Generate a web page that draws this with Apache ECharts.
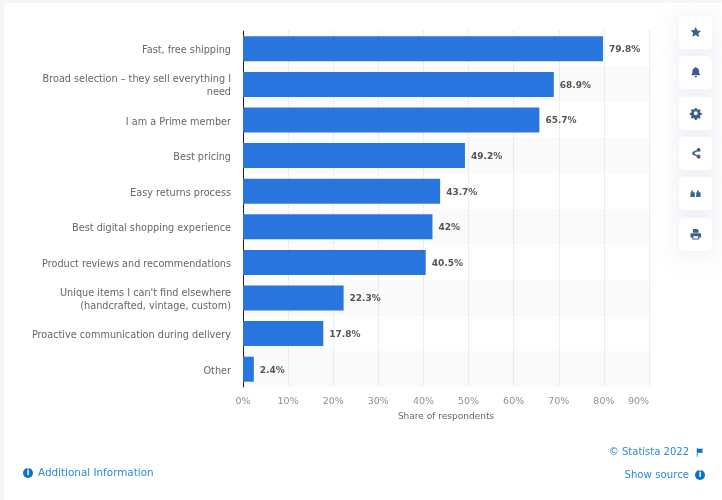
<!DOCTYPE html>
<html>
<head>
<meta charset="utf-8">
<title>Share of respondents</title>
<script src="https://cdn.jsdelivr.net/npm/echarts@6/dist/echarts.min.js"></script>
<style>
html,body{margin:0;padding:0;background:#f4f6f9;}
#main{width:722px;height:500px;}
</style>
</head>
<body>
<div id="main"></div>
<script>
var categories = [
	'Fast, free shipping',
	'Broad selection – they sell everything I\nneed',
	'I am a Prime member',
	'Best pricing',
	'Easy returns process',
	'Best digital shopping experience',
	'Product reviews and recommendations',
	"Unique items I can't find elsewhere\n(handcrafted, vintage, custom)",
	'Proactive communication during delivery',
	'Other'
];
var shares = [79.8, 68.9, 65.7, 49.2, 43.7, 42, 40.5, 22.3, 17.8, 2.4];
var axisTitle = 'Share of respondents';

var FONT = '"DejaVu Sans", sans-serif';
var LINK = '#2a8ad8';
var ICON = '#3d5f8a';

var myChart = echarts.init(document.getElementById('main'), null, {renderer: 'canvas'});

// toolbar buttons on the right, icons drawn on a 24 unit box
var btnY = [32, 72, 113, 153, 193, 234];
var iconPaths = [
	'M12 1l3.4 7.2 7.6 1-5.5 5.4 1.4 7.8L12 17.7 5.1 21.4l1.4-7.8L1 8.2l7.6-1z',
	'M12 1c1 0 1.6.7 1.7 1.6C17 3.4 19 6 19 10c0 5 1 6.5 2.5 8H2.5C4 16.5 5 15 5 10c0-4 2-6.6 5.3-7.4C10.400 1.700 11 1 12 1zM9.500 20h5c0 1.500-1 3-2.500 3s-2.500-1.500-2.500-3z',
	'M10 1h4l.6 3 2.200.9 2.600-1.700 2.800 2.800-1.700 2.600.9 2.200 3 .6v4l-3 .6-.9 2.200 1.700 2.600-2.800 2.800-2.600-1.700-2.200.9-.6 3h-4l-.6-3-2.200-.9-2.600 1.700-2.800-2.800 1.700-2.600-.9-2.200-3-.6v-4l3-.6.9-2.200-1.700-2.600 2.800-2.800 2.600 1.700 2.200-.9zM12 8a4 4 0 1 0 0 8 4 4 0 1 0 0-8z',
	'M18 1a4 4 0 1 1-2.900 6.800L9.800 10.700a4 4 0 0 1 0 2.600l5.300 2.900A4 4 0 1 1 14 19l-5.500-3a4 4 0 1 1 0-8L14 5a4 4 0 0 1 4-4z',
	'M1 13c0-4 2-7 5.500-8v3c-1 .5-1.500 1-1.500 2h5v10H1zM13 13c0-4 2-7 5.500-8v3c-1 .5-1.500 1-1.500 2h5v10h-9z',
	'M6 1h9l3 3v5H6zM3 10h18a2 2 0 0 1 2 2v7h-4v4H5v-4H1v-7a2 2 0 0 1 2-2zM7 16v5h10v-5z'
];
iconPaths.forEach(function(p, i){
	echarts.graphic.registerShape('icon' + i, echarts.graphic.extendPath(p, {}));
});
echarts.graphic.registerShape('flagIcon', echarts.graphic.extendPath('M1 0h1v1h7l-1.500 2.500L9 6H2v5H1z', {}));

var graphics = [
	{type: 'rect', silent: true, z: -10, shape: {x: 4, y: 3, width: 718, height: 497}, style: {fill: '#fff'}}
];
btnY.forEach(function(y, i){
	graphics.push({
		type: 'rect', silent: true, z: -9,
		shape: {x: 679, y: y - 16, width: 33, height: 33, r: 5},
		style: {fill: '#fff', shadowBlur: 26, shadowColor: 'rgba(60,90,150,0.13)', shadowOffsetY: 2}
	});
});
btnY.forEach(function(y, i){
	graphics.push({
		type: 'rect', silent: true, z: -8,
		shape: {x: 679, y: y - 16, width: 33, height: 33, r: 5},
		style: {fill: '#fff'}
	});
	graphics.push({
		type: 'icon' + i, silent: true,
		x: 690, y: y - 5.5, scaleX: 0.48, scaleY: 0.48,
		style: {fill: ICON}
	});
});

function infoDot(cx, cy){
	return [
		{type: 'circle', silent: true, shape: {cx: cx, cy: cy, r: 5}, style: {fill: '#0a72cc'}},
		{type: 'text', silent: true, style: {x: cx, y: cy, text: 'i', fill: '#fff', font: 'bold 8px ' + FONT, align: 'center', verticalAlign: 'middle'}}
	];
}
graphics = graphics.concat(infoDot(28, 473), infoDot(700, 475));
graphics.push(
	{type: 'text', silent: true, style: {x: 38, y: 473, text: 'Additional Information', fill: LINK, font: '10.4px ' + FONT, verticalAlign: 'middle'}},
	{type: 'text', silent: true, style: {x: 689, y: 452, text: '© Statista 2022', fill: LINK, font: '10px ' + FONT, align: 'right', verticalAlign: 'middle'}},
	{type: 'text', silent: true, style: {x: 689, y: 475, text: 'Show source', fill: LINK, font: '10.2px ' + FONT, align: 'right', verticalAlign: 'middle'}},
	{type: 'flagIcon', silent: true, x: 696, y: 448, scaleX: 0.8, scaleY: 0.8, style: {fill: '#0a72cc'}}
);

var option = {
	animation: false,
	backgroundColor: 'transparent',
	textStyle: {fontFamily: FONT},
	graphic: graphics,
	grid: {left: 243, top: 31, width: 406, height: 356, containLabel: false},
	xAxis: {
		type: 'value',
		min: 0,
		max: 90,
		interval: 10,
		name: axisTitle,
		nameLocation: 'middle',
		nameGap: 25,
		nameTextStyle: {color: '#666', fontSize: 9, fontFamily: FONT},
		axisLine: {show: false},
		axisTick: {show: false},
		axisLabel: {color: '#909090', fontSize: 9.5, margin: 10, fontFamily: FONT, alignMaxLabel: 'right', formatter: '{value}%'},
		splitLine: {show: true, lineStyle: {color: '#dcdcdc', type: 'dotted', width: 1}}
	},
	yAxis: {
		type: 'category',
		inverse: true,
		data: categories,
		axisLine: {show: true, lineStyle: {color: '#222', width: 1}},
		axisTick: {show: false},
		axisLabel: {
			margin: 12,
			align: 'right',
			// rich lines so the text can sit a little below the row centre
			formatter: function(value){
				return value.split('\n').map(function(line){
					return '{t|' + line + '}';
				}).join('\n');
			},
			rich: {t: {color: '#666', fontSize: 9.7, fontFamily: FONT, lineHeight: 13, padding: [4, 0, 0, 0]}}
		},
		splitArea: {show: true, areaStyle: {color: ['#fff', '#fafafa']}}
	},
	series: [{
		type: 'bar',
		data: shares,
		barWidth: 25,
		itemStyle: {color: '#2876dd'},
		label: {
			show: true,
			position: 'right',
			distance: 6,
			offset: [0, 1],
			color: '#555',
			fontSize: 9,
			fontWeight: 'bold',
			fontFamily: FONT,
			formatter: '{c}%'
		}
	}]
};
myChart.setOption(option);
</script>
</body>
</html>
